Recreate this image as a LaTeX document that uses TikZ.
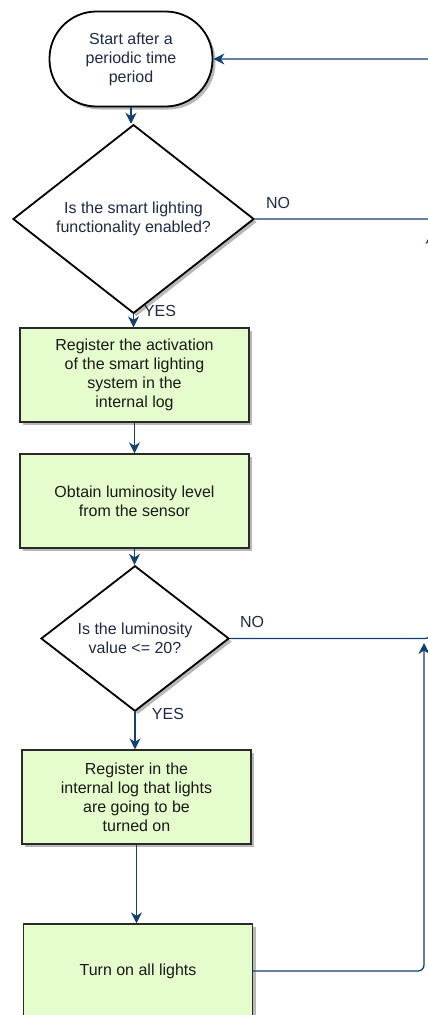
\documentclass[tikz,border=0pt]{standalone}
\usepackage{fontspec}
\setmainfont{Liberation Sans}
\usetikzlibrary{shapes.geometric,shadows,arrows.meta}
\definecolor{flow}{HTML}{12406F}
\definecolor{ink}{HTML}{1E2A44}
\definecolor{leaf}{HTML}{E5FDCC}
\definecolor{frame}{HTML}{2A2A2A}
\begin{document}
\begin{tikzpicture}[x=1pt,y=-1pt,
  font=\fontsize{16}{19}\selectfont,
  softshadow/.style={drop shadow={shadow xshift=3pt,shadow yshift=-3pt,fill=black!28,opacity=1}},
  terminal/.style={draw=black,line width=1.8pt,fill=white,rounded corners=47pt,
    minimum width=163pt,minimum height=95pt,align=center,text=ink,softshadow},
  decision/.style={diamond,draw=black,line width=1.8pt,fill=white,inner sep=0pt,
    align=center,text=ink,softshadow},
  process/.style={rectangle,draw=frame,line width=1.3pt,fill=leaf,
    minimum width=229pt,minimum height=94pt,align=center,text=black!90,softshadow},
  flowline/.style={draw=flow,line width=1.3pt},
  flowarrow/.style={flowline,-{Stealth[length=11pt,width=11pt,inset=3.5pt]}},
  branch/.style={text=ink,inner sep=0pt}]
\useasboundingbox (0,0) rectangle (428,1015);
\clip (0,0) rectangle (428,1015);

% steps of the loop
\node[terminal] (start) at (131,59) {Start after a\\periodic time\\period};
\node[decision,minimum width=241pt,minimum height=148pt] (q1) at (133.5,219)
  {Is the smart lighting\\functionality enabled?};
\node[process] (reg) at (134.5,375)
  {Register the activation\\of the smart lighting\\system in the\\internal log};
\node[process] (lum) at (134.5,501) {Obtain luminosity level\\from the sensor};
\node[decision,minimum width=188pt,minimum height=121pt] (q2) at (135,638.5)
  {Is the luminosity\\value <= 20?};
\node[process] (logon) at (136.5,797)
  {Register in the\\internal log that lights\\are going to be\\turned on};
\node[process] (on) at (138,971) {Turn on all lights};

% branch labels
\node[branch] (no1) at (278,203) {NO};
\node[branch] (yes1) at (160,311) {YES};
\node[branch] (no2) at (252,622) {NO};
\node[branch] (yes2) at (168,714) {YES};

% main sequence, kept vertical
\draw[flowarrow] (start.south) -- (start.south |- q1.north);
\draw[flowarrow] (q1.south) -- (q1.south |- reg.north);
\draw[flowarrow] (reg.south) -- (lum.north);
\draw[flowarrow] (lum.south) -- (lum.south |- q2.north);
\draw[flowarrow] (q2.south) -- (q2.south |- logon.north);
\draw[flowarrow] (logon.south) -- (logon.south |- on.north);

% return paths along the right side
\coordinate (back1) at (442,219);
\coordinate (back1top) at (442,59);
\coordinate (back2) at (431,638.5);
\coordinate (back2end) at (431,233);
\coordinate (back3) at (424,971);
\coordinate (back3end) at (424,643);
\draw[flowarrow,rounded corners=6pt] (q1.east) -- (back1) -- (back1top) -- (start.east);
\draw[flowarrow,rounded corners=6pt] (q2.east) -- (back2) -- (back2end);
\draw[flowarrow,rounded corners=6pt] (on.east) -- (back3) -- (back3end);
\end{tikzpicture}
\end{document}
